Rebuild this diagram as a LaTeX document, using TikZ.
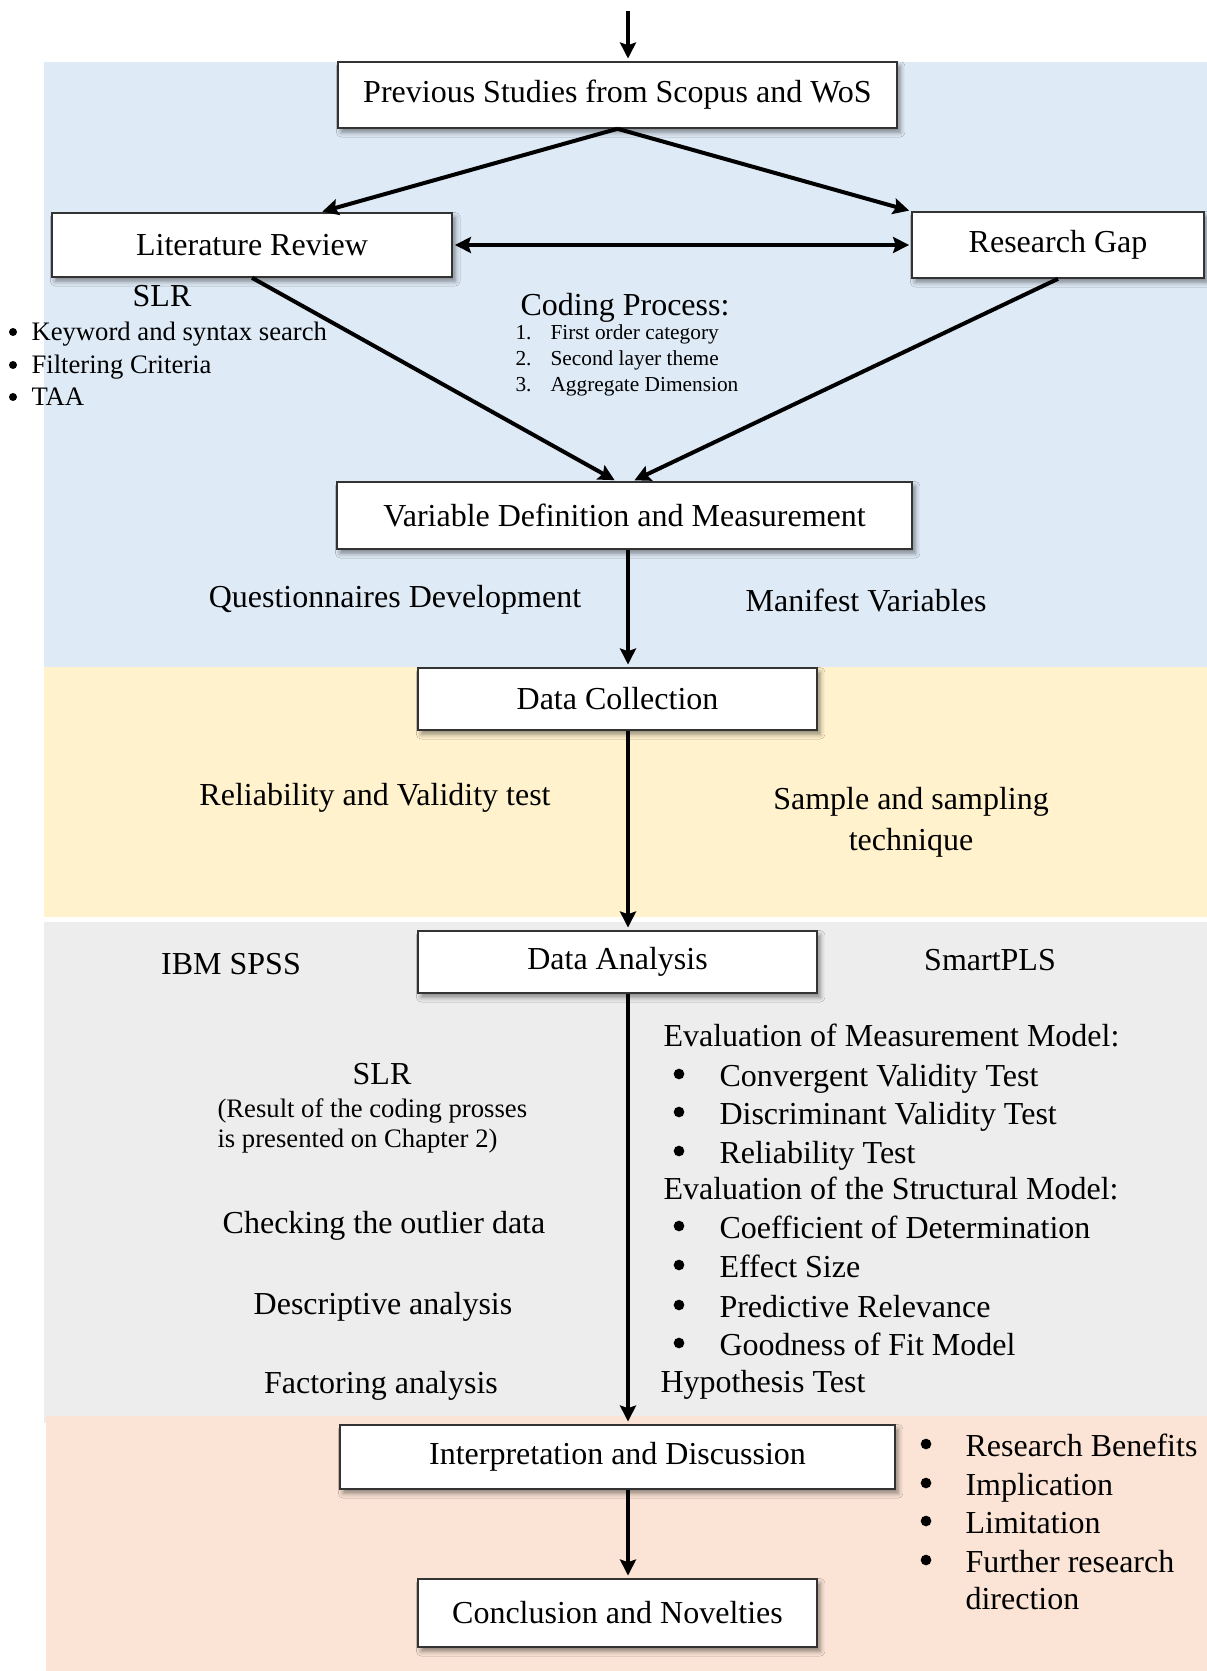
\documentclass[tikz,border=0pt]{standalone}
\usepackage{fontspec}
\setmainfont{Liberation Serif}
\usetikzlibrary{arrows.meta,shadows.blur,calc}

\definecolor{bandblue}{HTML}{DEEAF6}
\definecolor{bandyellow}{HTML}{FFF2CC}
\definecolor{bandgray}{HTML}{EDEDED}
\definecolor{bandpeach}{HTML}{FBE4D5}

\newcommand{\fsTwelve}{\fontsize{12}{14}\selectfont}
\newcommand{\fsTen}{\fontsize{10}{12}\selectfont}
\newcommand{\fsEight}{\fontsize{8}{10}\selectfont}

\begin{document}
\begin{tikzpicture}[x=0.375pt,y=-0.375pt,
  box/.style={draw=black!80, line width=0.6pt, fill=white, inner sep=0pt,
    font=\fsTwelve,
    blur shadow={shadow xshift=1.2pt, shadow yshift=-1.6pt,
      shadow blur radius=1.8pt, shadow opacity=45}},
  txt/.style={inner sep=0pt, anchor=base, font=\fsTwelve},
  txtl/.style={inner sep=0pt, anchor=base west, font=\fsTwelve},
  dot/.style={circle, fill=black, inner sep=0pt, minimum size=4pt},
  smalldot/.style={circle, fill=black, inner sep=0pt, minimum size=3pt},
  tip/.tip={Stealth[length=6pt,width=6pt,inset=1pt]},
  fatarrow/.style={line width=1.5pt, -tip, shorten >=0.8pt},
  thinarrow/.style={line width=1.3pt, -tip, shorten >=1pt}
]
\useasboundingbox (0,0) rectangle (1207,1671);

% coloured phase bands
\fill[bandblue]   (44,62)   rectangle (1207,667);
\fill[bandyellow] (44,667)  rectangle (1207,917);
\fill[bandgray]   (44,922)  rectangle (1207,1423);
\fill[bandpeach]  (46,1416) rectangle (1207,1671);

% process boxes
\node[box, minimum width=209.6pt, minimum height=24.75pt] (prev)   at (617.5,95)   {Previous Studies from Scopus and WoS};
\node[box, minimum width=150pt,   minimum height=24pt]    (lit)    at (252,245)    {Literature Review};
\node[box, minimum width=109.5pt, minimum height=24.75pt] (gap)    at (1058,245)   {Research Gap};
\node[box, minimum width=215.6pt, minimum height=25.1pt]  (var)    at (624.5,515.5){Variable Definition and Measurement};
\node[box, minimum width=149.6pt, minimum height=23.25pt] (dc)     at (617.5,699)  {Data Collection};
\node[box, minimum width=149.6pt, minimum height=23.25pt] (da)     at (617.5,962)  {Data Analysis};
\node[box, minimum width=208.1pt, minimum height=24pt]    (interp) at (617.5,1457) {Interpretation and Discussion};
\node[box, minimum width=149.6pt, minimum height=25.5pt]  (concl)  at (617.5,1613) {Conclusion and Novelties};

% connectors
\coordinate (spine) at (628,0);
\coordinate (entry) at (628,11);
\draw[thinarrow] (entry) -- (prev.north -| spine);
\draw[fatarrow] (prev.south) -- ($(lit.north west)!0.67!(lit.north east)$);
\draw[fatarrow] (prev.south) -- (gap.north west);
\draw[fatarrow, tip-tip, shorten <=0.8pt] (lit.east) -- (gap.west);
\draw[fatarrow] (lit.south) -- ($(var.north)+(-8,0)$);
\draw[fatarrow] (gap.south) -- ($(var.north)+(8,0)$);
\draw[thinarrow] (var.south -| spine) -- (dc.north -| spine);
\draw[thinarrow] (dc.south -| spine) -- (da.north -| spine);
\draw[thinarrow] (da.south -| spine) -- (interp.north -| spine);
\draw[thinarrow] (interp.south -| spine) -- (concl.north -| spine);

% literature stage notes
\node[txt] (slrtop) at (162,307) {SLR};
\foreach \k/\y/\t in {a/341/Keyword and syntax search, b/374/Filtering Criteria, c/406/TAA} {
  \node[smalldot] (slrdot\k) at (13,\y-9) {};
  \node[txtl, font=\fsTen] (slritem\k) at (31,\y) {\t};
}
\node[txt] (coding) at (625,316) {Coding Process:};
\foreach \n/\y/\t in {1/340/First order category, 2/366/Second layer theme, 3/392/Aggregate Dimension} {
  \node[txtl, font=\fsEight] (codenum\n) at (515,\y) {\n.};
  \node[txtl, font=\fsEight] (codeitem\n) at (550,\y) {\t};
}

% measurement and collection notes
\node[txt] (quest)    at (395,607) {Questionnaires Development};
\node[txt] (manifest) at (866,611) {Manifest Variables};
\node[txt] (relval)   at (375,805) {Reliability and Validity test};
\node[txt] (sample1)  at (911,809) {Sample and sampling};
\node[txt] (sample2)  at (911,850) {technique};

% analysis notes
\node[txt] (spss)  at (231,974) {IBM SPSS};
\node[txt] (spls)  at (990,970) {SmartPLS};
\node[txt] (slrmid) at (382,1084) {SLR};
\node[txtl, font=\fsTen] (res1) at (217,1117) {(Result of the coding prosses};
\node[txtl, font=\fsTen] (res2) at (217,1147) {is presented on Chapter 2)};
\node[txt] (outlier) at (384,1233) {Checking the outlier data};
\node[txt] (descr)   at (383,1314) {Descriptive analysis};
\node[txt] (factor)  at (381,1393) {Factoring analysis};

\node[txtl] (evalm) at (663,1046) {Evaluation of Measurement Model:};
\node[txtl] (evals) at (663,1199) {Evaluation of the Structural Model:};
\node[txtl] (hypo)  at (660,1392) {Hypothesis Test};
\foreach \k/\y/\t in {a/1086/Convergent Validity Test, b/1124/Discriminant Validity Test,
    c/1163/Reliability Test, d/1238/Coefficient of Determination, e/1277/Effect Size,
    f/1317/Predictive Relevance, g/1355/Goodness of Fit Model} {
  \node[dot] (evdot\k) at (679,\y-12) {};
  \node[txtl] (evitem\k) at (719,\y) {\t};
}

% discussion outcomes
\foreach \k/\y/\t in {a/1456/Research Benefits, b/1495/Implication, c/1533/Limitation, d/1572/Further research} {
  \node[dot] (outdot\k) at (926,\y-12) {};
  \node[txtl] (outitem\k) at (965,\y) {\t};
}
\node[txtl] (outitemd2) at (965,1609) {direction};
\end{tikzpicture}
\end{document}
